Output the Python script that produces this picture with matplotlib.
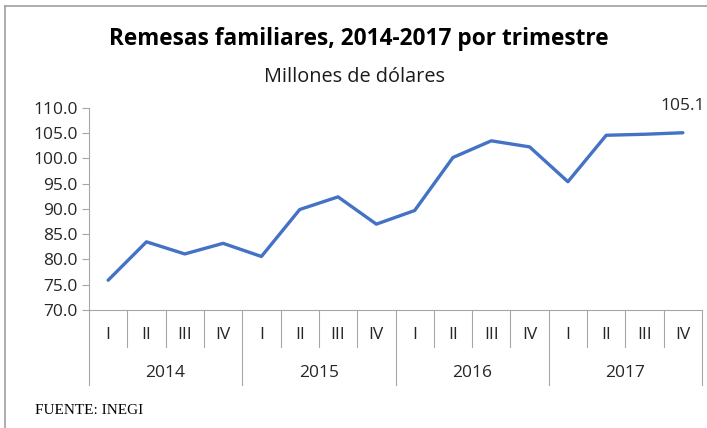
import matplotlib
matplotlib.use("Agg")
import matplotlib.pyplot as plt
from matplotlib.lines import Line2D
import matplotlib.transforms as mtransforms
import numpy as np

years = ["2014", "2015", "2016", "2017"]
quarters = ["I", "II", "III", "IV"]
values = [75.9, 83.5, 81.1, 83.2, 80.6, 89.9, 92.4, 87.0,
          89.7, 100.2, 103.5, 102.3, 95.4, 104.6, 104.8, 105.1]
yticks = [70.0, 75.0, 80.0, 85.0, 90.0, 95.0, 100.0, 105.0, 110.0]

W, H = 707, 428
FONT = ["Open Sans", "DejaVu Sans"]
fig = plt.figure(figsize=(W / 100, H / 100), dpi=100)
ax = fig.add_axes([89 / W, 1 - 310 / H, (702 - 89) / W, 202 / H])

x = np.arange(len(values))
ax.plot(x, values, color="#4472C4", lw=2.4, solid_capstyle="round", solid_joinstyle="round")
ax.set_xlim(-0.5, len(values) - 0.5)
ax.set_ylim(70, 110)
ax.set_yticks(yticks)
ax.set_yticklabels([f"{v:.1f}" for v in yticks], fontsize=12.5, color="#262626", family=FONT)
ax.tick_params(axis="y", length=5, width=0.8, color="#A6A6A6", pad=3)
ax.set_xticks([])
for s in ["top", "right"]:
    ax.spines[s].set_visible(False)
for s in ["left", "bottom"]:
    ax.spines[s].set_color("#A6A6A6")
    ax.spines[s].set_linewidth(0.8)

# data label on last point
ax.annotate(f"{values[-1]:.1f}", (x[-1], values[-1]), xytext=(0, 19), textcoords="offset points",
            ha="center", va="center", fontsize=12.5, color="#262626", family=FONT)

# category axis separators and labels
trans = mtransforms.blended_transform_factory(ax.transData, ax.transAxes)
qb = -37 / 202
yb = -75 / 202
for k in range(len(values) + 1):
    bottom = yb if k % 4 == 0 else qb
    ax.add_line(Line2D([k - 0.5, k - 0.5], [0, bottom], transform=trans, color="#A6A6A6",
                       lw=0.8, clip_on=False))
for i in range(len(values)):
    ax.text(i, -25 / 202, quarters[i % 4], transform=trans, ha="center", va="center",
            fontsize=12.5, color="#262626", family=FONT)
for j, yr in enumerate(years):
    ax.text(j * 4 + 1.5, -63 / 202, yr, transform=trans, ha="center", va="center",
            fontsize=12.5, color="#262626", family=FONT)

# titles
fig.text(359 / W, 1 - 39 / H, "Remesas familiares, 2014-2017 por trimestre", ha="center", va="center",
         fontsize=16.3, fontweight="bold", color="black", family=FONT)
fig.text(355 / W, 1 - 77 / H, "Millones de dólares", ha="center", va="center",
         fontsize=14.3, color="#1a1a1a", family=FONT)

fig.text(35 / W, 1 - 410 / H, "FUENTE: INEGI", ha="left", va="center", fontsize=11,
         color="black", family=["Liberation Serif", "DejaVu Serif"])

# chart border (left and top)
fig.add_artist(Line2D([4.5 / W, 4.5 / W], [0, 1 - 6 / H], transform=fig.transFigure,
                      color="#A0A0A0", lw=1.2))
fig.add_artist(Line2D([4.5 / W, 1], [1 - 6 / H, 1 - 6 / H], transform=fig.transFigure,
                      color="#A0A0A0", lw=1.2))

fig.savefig("out.png", dpi=100)
